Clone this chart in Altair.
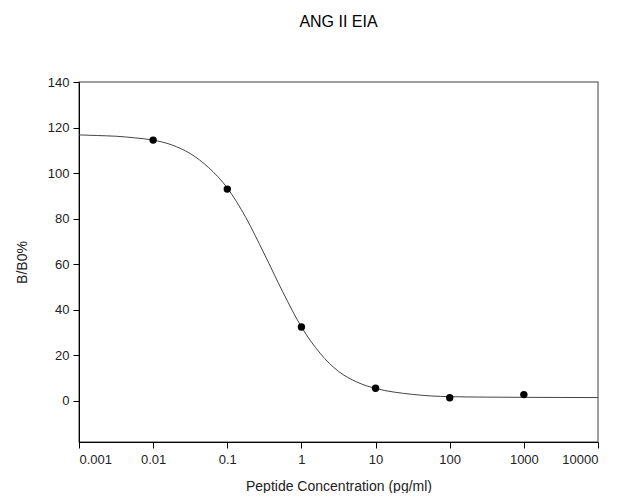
import altair as alt
import pandas as pd

# measured standards
conc = [0.01, 0.1, 1, 10, 100, 1000]
bb0 = [114.5, 93.0, 32.5, 5.6, 1.4, 2.8]

# fitted curve
curve_x = [0.001, 0.00178, 0.00316, 0.00562, 0.01, 0.0178, 0.0316, 0.0562,
           0.1, 0.178, 0.316, 0.562, 1, 1.78, 3.16, 5.62, 10, 17.8, 31.6,
           56.2, 100, 316, 1000, 3162, 10000]
curve_y = [116.8, 116.5, 116.2, 115.5, 114.5, 112.4, 108.6, 102.4,
           93.5, 80.5, 64.5, 47.8, 32.5, 21.0, 13.0, 8.3, 5.5, 3.9, 2.9,
           2.2, 1.9, 1.7, 1.6, 1.55, 1.5]

x_ticks = [0.001, 0.01, 0.1, 1, 10, 100, 1000, 10000]
y_ticks = [0, 20, 40, 60, 80, 100, 120, 140]

pts = pd.DataFrame({"conc": conc, "bb0": bb0})
cur = pd.DataFrame({"conc": curve_x, "bb0": curve_y})

FONT = "Liberation Sans"

xscale = alt.Scale(type="log", domain=[0.001, 10000], nice=False)
yscale = alt.Scale(domain=[-18, 140], nice=False, zero=False)

xaxis = alt.Axis(values=x_ticks, format="~g", title="Peptide Concentration (pg/ml)",
                 grid=False, domainColor="black", tickColor="black", tickSize=6,
                 labelFontSize=13, titleFontSize=14, labelPadding=5, titlePadding=13,
                 labelColor="#222", titleColor="#222", labelFont=FONT, titleFont=FONT,
                 labelFontWeight="normal", titleFontWeight="normal")
yaxis = alt.Axis(values=y_ticks, title="B/B0%", grid=False, domainColor="black",
                 tickColor="black", tickSize=6, labelFontSize=13, titleFontSize=14,
                 labelPadding=4, titlePadding=18, labelColor="#222", titleColor="#222",
                 labelFont=FONT, titleFont=FONT, labelFontWeight="normal",
                 titleFontWeight="normal")

line = alt.Chart(cur).mark_line(color="#444", strokeWidth=1, interpolate="monotone").encode(
    x=alt.X("conc:Q", scale=xscale, axis=xaxis),
    y=alt.Y("bb0:Q", scale=yscale, axis=yaxis),
)
dots = alt.Chart(pts).mark_circle(color="black", size=55, opacity=1).encode(
    x=alt.X("conc:Q", scale=xscale),
    y=alt.Y("bb0:Q", scale=yscale),
)

chart = (line + dots).properties(
    width=519, height=360,
    title=alt.TitleParams("ANG II EIA", fontSize=16, font=FONT, fontWeight="normal",
                          color="black", offset=46, anchor="middle"),
    autosize=alt.AutoSizeParams(type="none"),
    padding={"left": 71, "top": 74, "right": 14, "bottom": 51},
    background="white",
).configure_view(stroke="#808080", strokeWidth=1.5)

chart.save("out.html", embed_options={"renderer": "svg", "actions": False})
